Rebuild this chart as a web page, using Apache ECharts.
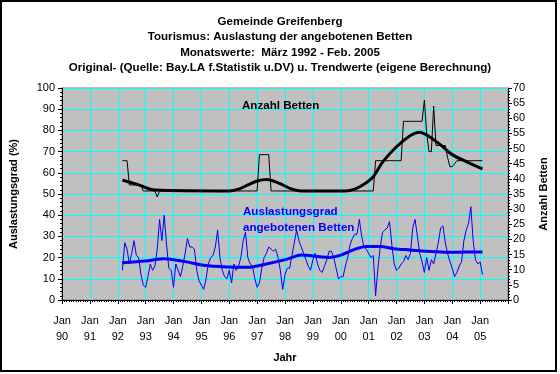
<!DOCTYPE html>
<html><head><meta charset="utf-8">
<script src="https://cdn.jsdelivr.net/npm/echarts@6/dist/echarts.min.js"></script>
<style>html,body{margin:0;padding:0;background:#fff}#c{width:560px;height:374px}</style>
</head><body><div id="c"></div>
<script>
const titleLines = [
  'Gemeinde Greifenberg',
  'Tourismus: Auslastung der angebotenen Betten',
  'Monatswerte:  März 1992 - Feb. 2005',
  'Original- (Quelle: Bay.LA f.Statistik u.DV) u. Trendwerte (eigene Berechnung)'
];
const yearLabels = ['90','91','92','93','94','95','96','97','98','99','00','01','02','03','04','05'];
// months counted from Jan 1990; first value = March 1992
const firstMonth = 26;
const occupancy = [
  14,27,24,17,22,28,21,20,12,7,
  6,11,17,14,16,24,38,28,40,26,
  15,14,6,17,14,11,16,22,29,25,
  25,24,14,9,7,5,10,17,20,21,
  25,33,20,14,11,10,14,8,17,14,
  16,20,28,32,20,17,16,10,6,8,
  15,20,22,25,24,23,24,20,14,5,
  12,15,15,21,27,33,28,25,22,19,
  16,14,19,22,17,14,13,16,19,23,
  23,20,15,10,11,11,16,20,26,29,
  31,31,38,30,25,24,22,20,21,2,
  15,25,32,33,34,37,26,17,14,15,
  17,18,21,19,22,34,38,30,22,18,
  13,20,14,19,17,22,27,34,35,27,
  22,18,15,11,13,16,18,28,33,36,
  44,28,19,17,18,12
];
const beds = [
  46,46,46,38,38,38,38,38,38,36,
  36,36,36,36,36,34,36,36,36,36,
  36,36,36,36,36,36,36,36,36,36,
  36,36,36,36,36,36,36,36,36,36,
  36,36,36,36,36,36,36,36,36,36,
  36,36,36,36,36,36,36,36,36,48,
  48,48,48,48,36,36,36,36,36,36,
  36,36,36,36,36,36,36,36,36,36,
  36,36,36,36,36,36,36,36,36,36,
  36,36,36,36,36,36,36,36,36,36,
  36,36,36,36,36,36,36,36,36,46,
  46,46,46,46,46,46,46,46,46,46,
  46,59,59,59,59,59,59,59,59,59,
  66,55,49,49,64,51,51,51,51,51,
  47,44,44,45,46,46,46,46,46,46,
  46,46,46,46,46,46
];
const occupancyTrend = [[26,17.6],[36,18.4],[44,19.5],[53,18.1],[61,16.4],[71,15.6],[80,15.4],[88,17],[97,19.3],[103,21.2],[111,20.4],[115,20.1],[120,21.2],[126,23.9],[131,25.2],[137,25.2],[143,24.2],[150,23.6],[157,23],[166,22.5],[174,22.6],[181,22.6]];
const bedsTrend = [[26,39.6],[33,38],[40,36.3],[72,36],[76,36.6],[80,38],[84,39.3],[88,39.8],[91,39.3],[95,38],[99,36.6],[103,36],[122,36],[126,36.6],[130,38.2],[134,40.7],[138,45.5],[144,50.6],[150,54.3],[154,55.4],[158,54],[163,51.2],[168,48],[174,45.7],[181,43.3]];

const toPairs = arr => arr.map((v, i) => [firstMonth + i, v]);
const F = 'Liberation Sans, Arial, sans-serif';
const chart = echarts.init(document.getElementById('c'), null, {renderer: 'canvas'});
chart.setOption({
  animation: false,
  backgroundColor: '#fff',
  title: {
    text: titleLines.join('\n'), left: 'center', top: 14, padding: 0,
    textStyle: {fontFamily: F, fontSize: 11.6, fontWeight: 'bold', color: '#000', lineHeight: 15.5}
  },
  grid: {left: 61, right: 52, top: 88, bottom: 74, show: true, backgroundColor: '#C0C0C0', borderColor: '#808080', borderWidth: 1},
  xAxis: {
    type: 'value', min: 0, max: 192, interval: 12,
    name: 'Jahr', nameLocation: 'middle', nameGap: 52,
    nameTextStyle: {fontFamily: F, fontSize: 11, fontWeight: 'bold', color: '#000'},
    axisLine: {lineStyle: {color: '#000'}},
    axisTick: {length: 4, lineStyle: {color: '#000'}},
    minorTick: {show: true, splitNumber: 12, length: 2, lineStyle: {color: '#000'}},
    splitLine: {show: true, lineStyle: {color: '#00FFFF', width: 1}},
    axisLabel: {fontFamily: F, fontSize: 11, color: '#000', lineHeight: 16, margin: 13,
      formatter: v => { const i = Math.round(v / 12); return i < yearLabels.length ? 'Jan\n' + yearLabels[i] : ''; }}
  },
  yAxis: [{
    type: 'value', min: 0, max: 100, interval: 10,
    name: 'Auslastungsgrad (%)', nameLocation: 'middle', nameGap: 43,
    nameTextStyle: {fontFamily: F, fontSize: 11, fontWeight: 'bold', color: '#000'},
    axisLine: {show: true, lineStyle: {color: '#000'}},
    axisTick: {show: true, length: 4, lineStyle: {color: '#000'}},
    minorTick: {show: true, splitNumber: 5, length: 2, lineStyle: {color: '#000'}},
    splitLine: {show: true, lineStyle: {color: '#00FFFF', width: 1}},
    axisLabel: {fontFamily: F, fontSize: 11, color: '#000', margin: 7}
  }, {
    type: 'value', min: 0, max: 70, interval: 5, position: 'right',
    name: 'Anzahl Betten', nameLocation: 'middle', nameGap: 30,
    nameTextStyle: {fontFamily: F, fontSize: 11, fontWeight: 'bold', color: '#000'},
    axisLine: {show: true, lineStyle: {color: '#000'}},
    axisTick: {show: true, length: 4, lineStyle: {color: '#000'}},
    minorTick: {show: true, splitNumber: 5, length: 2, lineStyle: {color: '#000'}},
    splitLine: {show: false},
    axisLabel: {fontFamily: F, fontSize: 11, color: '#000', margin: 5}
  }],
  graphic: [
    {type: 'rect', z: 100, shape: {x: 1, y: 1, width: 555, height: 370}, style: {fill: 'none', stroke: '#000', lineWidth: 2}},
    {type: 'text', z: 100, left: 242, top: 100, style: {text: 'Anzahl Betten', font: 'bold 11.6px ' + F, fill: '#000'}},
    {type: 'text', z: 100, left: 243, top: 204, style: {text: 'Auslastungsgrad\nangebotenen Betten', font: 'bold 11.6px ' + F, fill: '#0000FF', lineHeight: 16}}
  ],
  series: [
    {type: 'line', yAxisIndex: 1, data: toPairs(beds), showSymbol: false, lineStyle: {color: '#000', width: 1}, itemStyle: {color: '#000'}},
    {type: 'line', yAxisIndex: 1, data: bedsTrend, smooth: 0.3, showSymbol: false, lineStyle: {color: '#000', width: 3}, itemStyle: {color: '#000'}},
    {type: 'line', yAxisIndex: 0, data: toPairs(occupancy), showSymbol: false, lineStyle: {color: '#0000FF', width: 1}, itemStyle: {color: '#0000FF'}},
    {type: 'line', yAxisIndex: 0, data: occupancyTrend, smooth: 0.3, showSymbol: false, lineStyle: {color: '#0000FF', width: 3}, itemStyle: {color: '#0000FF'}}
  ]
});
</script>
</body></html>
